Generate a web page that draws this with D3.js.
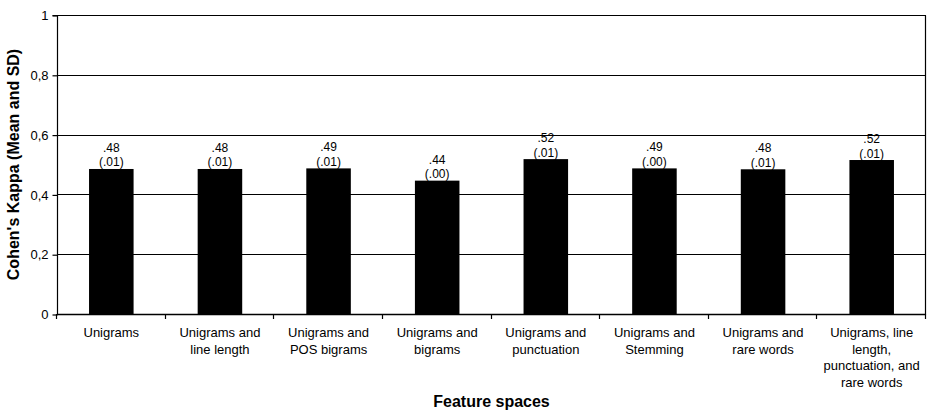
<!DOCTYPE html>
<html>
<head>
<meta charset="utf-8">
<script src="https://cdn.jsdelivr.net/npm/d3@7"></script>
<style>
  body { margin: 0; background: #fff; }
  svg { display: block; font-family: "Liberation Sans", Arial, sans-serif; }
</style>
</head>
<body>
<svg id="chart" width="929" height="410"></svg>
<script>
const categories = [
  ["Unigrams"],
  ["Unigrams and", "line length"],
  ["Unigrams and", "POS bigrams"],
  ["Unigrams and", "bigrams"],
  ["Unigrams and", "punctuation"],
  ["Unigrams and", "Stemming"],
  ["Unigrams and", "rare words"],
  ["Unigrams, line", "length,", "punctuation, and", "rare words"]
];
const meanValues = [0.485, 0.485, 0.487, 0.446, 0.518, 0.487, 0.484, 0.515];
const meanLabels = [".48", ".48", ".49", ".44", ".52", ".49", ".48", ".52"];
const sdLabels = ["(.01)", "(.01)", "(.01)", "(.00)", "(.01)", "(.00)", "(.01)", "(.01)"];
const yTicks = [0, 0.2, 0.4, 0.6, 0.8, 1];
const yTickLabels = ["0", "0,2", "0,4", "0,6", "0,8", "1"];

const svg = d3.select("#chart");
const margin = { left: 57, right: 3, top: 15, bottom: 96 };
const W = 929, H = 410;
const x0 = margin.left, x1 = W - margin.right;
const y0 = H - margin.bottom, y1 = margin.top;

const idx = d3.range(categories.length);
const x = d3.scaleBand().domain(idx).range([x0, x1]).paddingInner(0).paddingOuter(0);
const y = d3.scaleLinear().domain([0, 1]).range([y0, y1]);
const barW = x.bandwidth() * 0.41;

// gridlines
svg.append("g").selectAll("line").data(yTicks.filter(d => d > 0)).join("line")
  .attr("x1", x0).attr("x2", x1)
  .attr("y1", d => Math.round(y(d)) + 0.5).attr("y2", d => Math.round(y(d)) + 0.5)
  .attr("stroke", "#000").attr("stroke-width", 1.2);

// right border
svg.append("line")
  .attr("x1", x1 - 0.5).attr("x2", x1 - 0.5)
  .attr("y1", Math.round(y(1)) + 0.5).attr("y2", Math.round(y(0)) + 0.5)
  .attr("stroke", "#000").attr("stroke-width", 1.2);

// bars
svg.append("g").selectAll("rect").data(idx).join("rect")
  .attr("x", i => x(i) + (x.bandwidth() - barW) / 2)
  .attr("width", barW)
  .attr("y", i => y(meanValues[i]))
  .attr("height", i => y(0) - y(meanValues[i]))
  .attr("fill", "#000");

// value labels
const vl = svg.append("g").attr("font-size", 12).attr("fill", "#000").attr("text-anchor", "middle");
idx.forEach(i => {
  const cx = x(i) + x.bandwidth() / 2;
  const top = y(meanValues[i]);
  vl.append("text").attr("x", cx).attr("y", top - 17).text(meanLabels[i]);
  vl.append("text").attr("x", cx).attr("y", top - 2.5).text(sdLabels[i]);
});

// y axis
const yAxis = d3.axisLeft(y).tickValues(yTicks).tickSize(5).tickPadding(4)
  .tickFormat((d, i) => yTickLabels[i]);
const gy = svg.append("g").attr("transform", `translate(${x0 + 0.5},0.5)`).call(yAxis);
gy.select(".domain").attr("stroke", "#000").attr("stroke-width", 1.2).attr("d", `M-5,${y(1)}H0V${y(0)}`);
gy.selectAll(".tick line").attr("stroke", "#000").attr("stroke-width", 1.2);
gy.selectAll(".tick text").attr("font-size", 13).attr("fill", "#000")
  .attr("font-family", "'Liberation Sans', Arial, sans-serif");

// x axis baseline
svg.append("line")
  .attr("x1", x0).attr("x2", x1)
  .attr("y1", Math.round(y(0)) + 0.5).attr("y2", Math.round(y(0)) + 0.5)
  .attr("stroke", "#000").attr("stroke-width", 1.4);

// x ticks at band boundaries
const bounds = idx.map(i => x(i)).concat([x1]);
svg.append("g").selectAll("line").data(bounds).join("line")
  .attr("x1", d => Math.round(d) - 0.5).attr("x2", d => Math.round(d) - 0.5)
  .attr("y1", Math.round(y(0))).attr("y2", Math.round(y(0)) + 5)
  .attr("stroke", "#000").attr("stroke-width", 1.2);

// category labels
const cl = svg.append("g").attr("font-size", 13).attr("fill", "#000").attr("text-anchor", "middle");
idx.forEach(i => {
  const t = cl.append("text").attr("x", x(i) + x.bandwidth() / 2).attr("y", y(0) + 23);
  categories[i].forEach((line, k) => {
    t.append("tspan").attr("x", x(i) + x.bandwidth() / 2).attr("dy", k === 0 ? 0 : 16.5).text(line);
  });
});

// axis titles
svg.append("text").attr("x", (x0 + x1) / 2).attr("y", 407)
  .attr("text-anchor", "middle").attr("font-weight", "bold").attr("font-size", 16)
  .attr("fill", "#000").text("Feature spaces");
svg.append("text")
  .attr("transform", `translate(18.5,${(y0 + y1) / 2}) rotate(-90)`)
  .attr("text-anchor", "middle").attr("font-weight", "bold").attr("font-size", 16)
  .attr("fill", "#000").text("Cohen's Kappa (Mean and SD)");
</script>
</body>
</html>
